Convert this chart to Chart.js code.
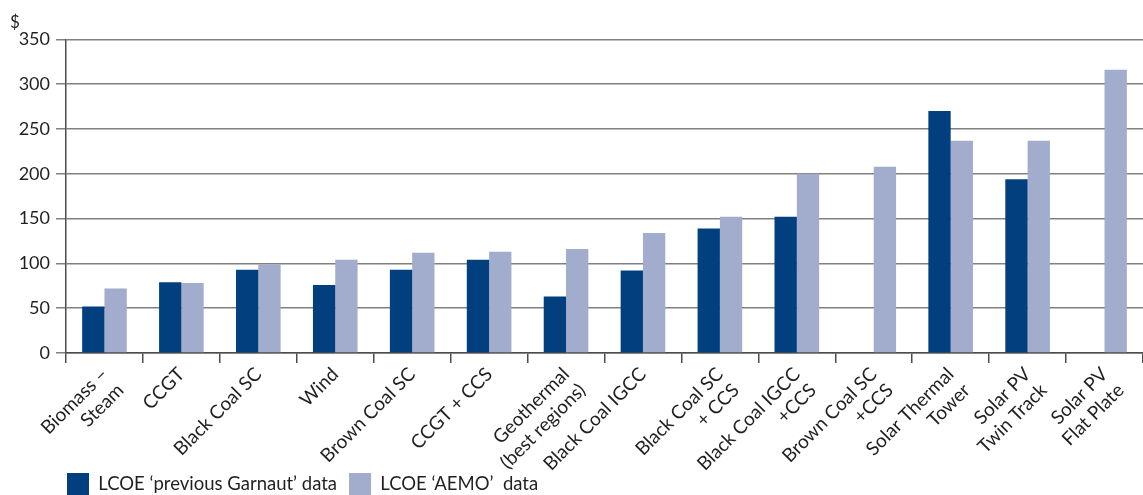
<!DOCTYPE html>
<html>
<head>
<meta charset="utf-8">
<script src="https://cdn.jsdelivr.net/npm/chart.js@4/dist/chart.umd.min.js"></script>
<style>
  html, body { margin: 0; padding: 0; background: #fff; }
  #wrap { width: 1143px; height: 495px; }
</style>
</head>
<body>
<div id="wrap"><canvas id="chart"></canvas></div>
<script>
// Categories (multi-line labels)
const categories = [
    ['Biomass –', 'Steam'],
    'CCGT',
    'Black Coal SC',
    'Wind',
    'Brown Coal SC',
    'CCGT + CCS',
    ['Geothermal', '(best regions)'],
    'Black Coal IGCC',
    ['Black Coal SC', '+ CCS'],
    ['Black Coal IGCC', '+CCS'],
    ['Brown Coal SC', '+CCS'],
    ['Solar Thermal', 'Tower'],
    ['Solar PV', 'Twin Track'],
    ['Solar PV', 'Flat Plate']
];

// LCOE values ($)
const garnautValues = [52, 79, 93, 76, 93, 104, 63, 92, 139, 152, null, 270, 194, null];
const aemoValues = [72, 78, 99, 104, 112, 113, 116, 134, 152, 200, 208, 237, 237, 316];

const yTicks = [0, 50, 100, 150, 200, 250, 300, 350];

const COLORS = {
    dark: '#023f7e',
    light: '#a2accd',
    grid: '#808080',
    axis: '#4d4d4d',
    text: '#231f20'
};

const FONT = 'Lato, "Open Sans", sans-serif';

// Line the legend up with the y axis, push it to the bottom edge,
// and let the rotated category labels run below the x axis box
const layoutTweaks = {
    id: 'layoutTweaks',
    afterLayout(chart) {
        const lg = chart.legend;
        const dx = chart.chartArea.left - lg.left - 11;
        lg.left += dx;
        lg.right += dx;
        lg.top += 10;
        lg.bottom += 10;
        chart.scales.x.bottom = chart.height;
    }
};

new Chart(document.getElementById('chart'), {
    type: 'bar',
    data: {
        labels: categories,
        datasets: [
            {
                label: 'LCOE ‘previous Garnaut’ data',
                data: garnautValues,
                backgroundColor: COLORS.dark
            },
            {
                label: 'LCOE ‘AEMO’  data',
                data: aemoValues,
                backgroundColor: COLORS.light
            }
        ]
    },
    options: {
        responsive: true,
        maintainAspectRatio: false,
        animation: false,
        layout: {
            padding: { left: 10, right: 0, top: 0, bottom: 0 }
        },
        datasets: {
            bar: {
                barPercentage: 1,
                categoryPercentage: 0.58
            }
        },
        plugins: {
            title: {
                display: true,
                text: '$',
                align: 'start',
                color: COLORS.text,
                font: { family: FONT, size: 17, weight: 'normal' },
                padding: { top: 12, bottom: 7 }
            },
            legend: {
                position: 'bottom',
                align: 'start',
                labels: {
                    boxWidth: 22,
                    boxHeight: 22,
                    padding: 12,
                    color: COLORS.text,
                    font: { family: FONT, size: 18.5 }
                }
            },
            tooltip: { enabled: false }
        },
        scales: {
            x: {
                afterFit(scale) {
                    scale.height = 98;
                },
                grid: {
                    offset: true,
                    drawOnChartArea: false,
                    color: COLORS.axis,
                    lineWidth: 1.5,
                    tickLength: 10
                },
                border: { color: COLORS.axis, width: 1.5 },
                ticks: {
                    minRotation: 45,
                    maxRotation: 45,
                    autoSkip: false,
                    padding: 0,
                    color: COLORS.text,
                    font: { family: FONT, size: 19 }
                }
            },
            y: {
                min: 0,
                max: 350,
                afterFit(scale) {
                    scale.width = 56;
                },
                afterBuildTicks(scale) {
                    scale.ticks = yTicks.map(v => ({ value: v }));
                },
                grid: {
                    color: COLORS.grid,
                    lineWidth: 1.5,
                    tickLength: 10
                },
                border: { color: COLORS.axis, width: 1.5 },
                ticks: {
                    padding: 6,
                    color: COLORS.text,
                    font: { family: FONT, size: 18 }
                }
            }
        }
    },
    plugins: [layoutTweaks]
});
</script>
</body>
</html>
